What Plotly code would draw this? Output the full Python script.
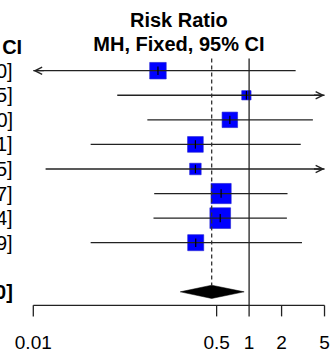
import plotly.graph_objects as go
import math

# ---------------- data ----------------
est = [0.143, 0.944, 0.663, 0.318, 0.318, 0.55, 0.54, 0.32]
lower = [0.004, 0.060, 0.114, 0.034, 0.013, 0.132, 0.130, 0.034]
upper = [2.70, 14.95, 3.90, 3.01, 7.75, 2.27, 2.24, 3.09]
weights = [13.2, 4.2, 11.6, 11.9, 6.4, 19.7, 20.7, 12.4]
pooled_est = 0.45
pooled_lower = 0.23
pooled_upper = 0.90
tick_vals = [0.01, 0.5, 1, 2, 5]
tick_text = ["0.01", "0.5", "1", "2", "5"]
header_effect = ["Risk Ratio", "MH, Fixed, 95% CI"]
header_ci = "Risk Ratio<br>MH, Fixed, 95% CI"

# ---------------- layout constants ----------------
XMIN, XMAX = 0.01, 5
FONT = "Liberation Sans, Arial, Helvetica, sans-serif"
rows = list(range(1, len(est) + 1))
pooled_row = len(est) + 2
axis_row = pooled_row + 0.55
tick_len = 0.45
top_row = 0.5
diam_h = 0.27
LINE = "#222222"

fig = go.Figure()

# squares (area ~ weight)
sizes = [4.55 * math.sqrt(w) for w in weights]
fig.add_trace(go.Scatter(
    x=est, y=rows, mode="markers",
    marker=dict(symbol="square", size=sizes, color="#0000FF", opacity=1,
                line=dict(color="#2020d0", width=0.6)),
    hoverinfo="skip"))

# CI lines
for r, lo, hi in zip(rows, lower, upper):
    fig.add_trace(go.Scatter(
        x=[max(lo, XMIN), min(hi, XMAX)], y=[r, r], mode="lines",
        line=dict(color=LINE, width=1.3), hoverinfo="skip"))

# small vertical ticks at estimates
fig.add_trace(go.Scatter(
    x=est, y=rows, mode="markers",
    marker=dict(symbol="line-ns", size=6, opacity=1, line=dict(color="black", width=1.2)),
    hoverinfo="skip"))

# no-effect line and pooled (dashed) line
fig.add_trace(go.Scatter(x=[1, 1], y=[top_row, axis_row], mode="lines",
                         line=dict(color=LINE, width=1.3), hoverinfo="skip"))
fig.add_trace(go.Scatter(x=[pooled_est, pooled_est], y=[top_row, pooled_row - diam_h],
                         mode="lines", line=dict(color="#333333", width=1.3, dash="4px,3px"),
                         hoverinfo="skip"))

# diamond
fig.add_trace(go.Scatter(
    x=[pooled_lower, pooled_est, pooled_upper, pooled_est, pooled_lower],
    y=[pooled_row, pooled_row - diam_h, pooled_row, pooled_row + diam_h, pooled_row],
    mode="lines", fill="toself", fillcolor="black",
    line=dict(color="black", width=0.5), hoverinfo="skip"))

# x axis line and ticks
fig.add_trace(go.Scatter(x=[XMIN, XMAX], y=[axis_row, axis_row], mode="lines",
                         line=dict(color=LINE, width=1.3), hoverinfo="skip"))
tx, ty = [], []
for t in tick_vals:
    tx += [t, t, None]
    ty += [axis_row, axis_row + tick_len, None]
fig.add_trace(go.Scatter(x=tx, y=ty, mode="lines",
                         line=dict(color=LINE, width=1.3), hoverinfo="skip"))
fig.add_trace(go.Scatter(x=tick_vals, y=[axis_row + 1.6] * len(tick_vals), mode="text",
                         text=tick_text, textposition="middle center",
                         textfont=dict(family=FONT, size=19, color="black"),
                         cliponaxis=False, hoverinfo="skip"))

# graph header (centred over xlim)
xc = math.sqrt(XMIN * XMAX)
fig.add_trace(go.Scatter(x=[xc, xc], y=[-1, 0], mode="text",
                         text=[f"<b>{h}</b>" for h in header_effect],
                         textposition="middle center",
                         textfont=dict(family=FONT, size=20, color="black"),
                         cliponaxis=False, hoverinfo="skip"))

# arrows for CIs beyond the limits
ann = []
for r, lo, hi in zip(rows, lower, upper):
    if lo < XMIN:
        ann.append(dict(x=math.log10(XMIN), y=r, xref="x", yref="y", text="",
                        showarrow=True, ax=12, ay=0, arrowhead=5, arrowsize=1.1,
                        arrowwidth=1.3, arrowcolor=LINE))
    if hi > XMAX:
        ann.append(dict(x=math.log10(XMAX), y=r, xref="x", yref="y", text="",
                        showarrow=True, ax=-12, ay=0, arrowhead=5, arrowsize=1.1,
                        arrowwidth=1.3, arrowcolor=LINE))

# left text column (mostly cut off by the image edge)
for r, e, lo, hi in zip(rows, est, lower, upper):
    ann.append(dict(x=15 / 332, y=r, xref="paper", yref="y", xanchor="right",
                    yanchor="middle", showarrow=False,
                    text=f"{e:.2f} [{lo:.2f}; {hi:.2f}]",
                    font=dict(family=FONT, size=20, color="black")))
ann.append(dict(x=15 / 332, y=pooled_row, xref="paper", yref="y", xanchor="right",
                yanchor="middle", showarrow=False,
                text=f"<b>{pooled_est:.2f} [{pooled_lower:.2f}; {pooled_upper:.2f}]</b>",
                font=dict(family=FONT, size=20, color="black")))
ann.append(dict(x=24 / 332, y=-0.5, xref="paper", yref="y", xanchor="right",
                yanchor="middle", showarrow=False, align="center",
                text=f"<b>{header_ci}</b>",
                font=dict(family=FONT, size=20, color="black")))

PX_DEC = 107.9
X0_PX = 33.3
left = math.log10(XMIN) - X0_PX / PX_DEC
right = math.log10(XMIN) + (332 - X0_PX) / PX_DEC
ROW_PX = 24.57
ROW1_PX = 70.7
ytop = 1 - ROW1_PX / ROW_PX
ybot = 1 + (350 - ROW1_PX) / ROW_PX

fig.update_layout(
    width=332, height=350, margin=dict(l=0, r=0, t=0, b=0),
    paper_bgcolor="white", plot_bgcolor="white", showlegend=False,
    xaxis=dict(type="log", range=[left, right], visible=False, fixedrange=True),
    yaxis=dict(range=[ybot, ytop], visible=False, fixedrange=True),
    annotations=ann,
)

fig.write_html("out.html", config={"displayModeBar": False},
               post_script="document.body.style.margin='0';document.body.style.overflow='hidden';")
